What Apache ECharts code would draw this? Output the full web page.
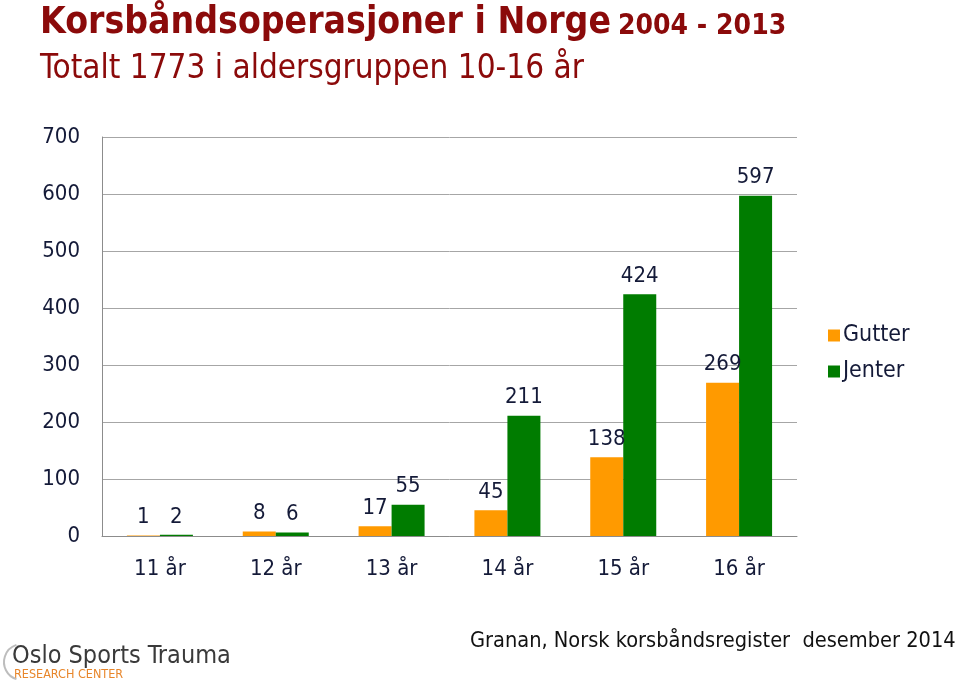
<!DOCTYPE html>
<html>
<head>
<meta charset="utf-8">
<script src="https://cdn.jsdelivr.net/npm/echarts@6/dist/echarts.min.js"></script>
<style>html,body{margin:0;padding:0;background:#fff}#c{width:960px;height:681px}</style>
</head>
<body>
<div id="c"></div>
<script>
const categories = ['11 år', '12 år', '13 år', '14 år', '15 år', '16 år'];
const gutter = [1, 8, 17, 45, 138, 269];
const jenter = [2, 6, 55, 211, 424, 597];
const seriesNames = ['Gutter', 'Jenter'];
const yTicks = { min: 0, max: 700, interval: 100 };

const FONT = '"DejaVu Sans Condensed", "DejaVu Sans", sans-serif';
const NAVY = '#141a38';
const chart = echarts.init(document.getElementById('c'), null, { renderer: 'canvas' });

const labelCfg = { show: true, position: 'top', distance: 7, color: NAVY, fontSize: 22, fontFamily: FONT };

chart.setOption({
  backgroundColor: '#fff',
  animation: false,
  title: [
    {
      left: 40, top: 5, padding: 0,
      text: '{a|Korsbåndsoperasjoner i Norge} {b|2004 - 2013}',
      textStyle: {
        rich: {
          a: { fontSize: 37, fontWeight: 'bold', color: '#8b0a0a', fontFamily: FONT },
          b: { fontSize: 28, fontWeight: 'bold', color: '#8b0a0a', fontFamily: FONT, padding: [7, 0, 0, 2] }
        }
      }
    },
    {
      left: 40, top: 53, padding: 0,
      text: 'Totalt 1773 i aldersgruppen 10-16 år',
      textStyle: { fontSize: 33, fontWeight: 'normal', color: '#8b0a0a', fontFamily: FONT }
    }
  ],
  legend: {
    orient: 'vertical',
    left: 823, top: 319,
    itemWidth: 12, itemHeight: 12, itemGap: 13,
    icon: 'rect',
    textStyle: { fontSize: 23, color: NAVY, fontFamily: FONT, padding: [0, 0, 0, -2] },
    data: seriesNames
  },
  grid: { left: 102, right: 163, top: 137, bottom: 145, containLabel: false },
  xAxis: {
    type: 'category',
    data: categories,
    axisLine: { show: true, lineStyle: { color: '#8c8c8c', width: 1 } },
    axisTick: { show: false },
    axisLabel: { color: NAVY, fontSize: 22, fontFamily: FONT, margin: 22 }
  },
  yAxis: {
    type: 'value',
    min: yTicks.min, max: yTicks.max, interval: yTicks.interval,
    axisLine: { show: true, lineStyle: { color: '#8c8c8c', width: 1 } },
    axisTick: { show: false },
    splitLine: { show: true, lineStyle: { color: '#a6a6a6', width: 1 } },
    axisLabel: { color: NAVY, fontSize: 22, fontFamily: FONT, margin: 22 }
  },
  series: [
    {
      name: seriesNames[0], type: 'bar', data: gutter,
      barWidth: 33, barGap: '0%',
      itemStyle: { color: '#ff9a00' },
      label: labelCfg
    },
    {
      name: seriesNames[1], type: 'bar', data: jenter,
      barWidth: 33, barGap: '0%',
      itemStyle: { color: '#007c00' },
      label: labelCfg
    }
  ],
  graphic: [
    {
      type: 'text', left: 470, top: 630,
      style: { text: 'Granan, Norsk korsbåndsregister  desember 2014', fontSize: 21.6, fill: '#111', fontFamily: FONT }
    },
    {
      type: 'text', left: 12, top: 644,
      style: { text: 'Oslo Sports Trauma', fontSize: 25, fill: '#3a3a3a', fontFamily: FONT }
    },
    {
      type: 'text', left: 14, top: 668,
      style: { text: 'RESEARCH CENTER', fontSize: 12.5, fill: '#e8862a', fontFamily: FONT }
    },
    {
      type: 'arc', shape: { cx: 22, cy: 662, r: 18, startAngle: Math.PI * 0.6, endAngle: Math.PI * 1.4 },
      style: { stroke: '#bdbdbd', lineWidth: 2, fill: null }
    }
  ]
});
</script>
</body>
</html>
